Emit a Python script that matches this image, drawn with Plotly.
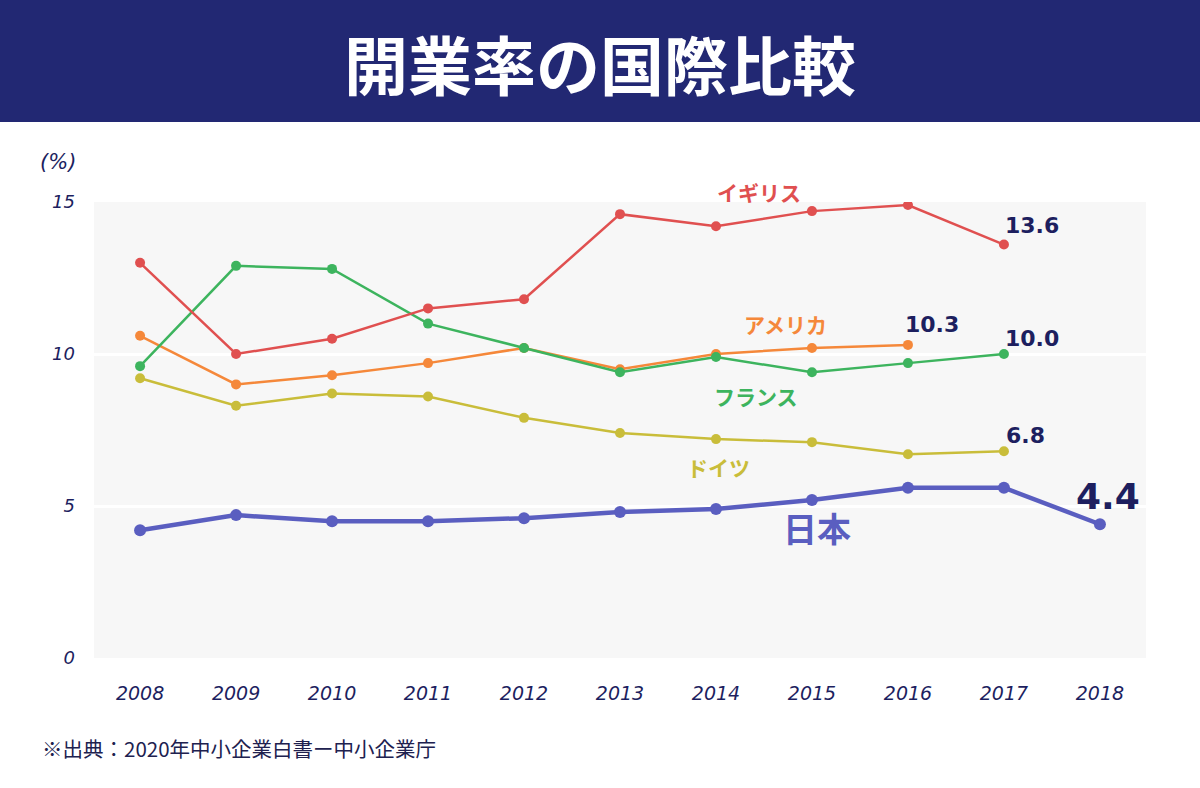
import plotly.graph_objects as go

years = [2008, 2009, 2010, 2011, 2012, 2013, 2014, 2015, 2016, 2017, 2018]
uk = [13.0, 10.0, 10.5, 11.5, 11.8, 14.6, 14.2, 14.7, 14.9, 13.6]
france = [9.6, 12.9, 12.8, 11.0, 10.2, 9.4, 9.9, 9.4, 9.7, 10.0]
usa = [10.6, 9.0, 9.3, 9.7, 10.2, 9.5, 10.0, 10.2, 10.3]
germany = [9.2, 8.3, 8.7, 8.6, 7.9, 7.4, 7.2, 7.1, 6.7, 6.8]
japan = [4.2, 4.7, 4.5, 4.5, 4.6, 4.8, 4.9, 5.2, 5.6, 5.6, 4.4]

y_ticks = [0, 5, 10, 15]

NAVY = "#1d1f5f"
C_UK = "#e05050"
C_FR = "#3db45e"
C_US = "#f5883a"
C_DE = "#c9bd3a"
C_JP = "#5a5ec0"

fig = go.Figure()

def add(vals, color, lw, ms):
    fig.add_trace(go.Scatter(
        x=years[:len(vals)], y=vals, mode="lines+markers",
        line=dict(color=color, width=lw),
        marker=dict(color=color, size=ms),
        showlegend=False, hoverinfo="skip"))

add(germany, C_DE, 2.5, 10)
add(usa, C_US, 2.5, 10)
add(france, C_FR, 2.5, 10)
add(uk, C_UK, 2.5, 10)
add(japan, C_JP, 4.5, 12)

# Series name labels (x, y in data units, yshift px)
name_labels = [
    ("イギリス", 2014.45, 14.95, 12, C_UK, 21),
    ("アメリカ", 2014.72, 10.85, 4, C_US, 21),
    ("フランス", 2014.42, 8.45, 5, C_FR, 21),
    ("ドイツ", 2014.03, 6.2, 3, C_DE, 21),
    ("日本", 2015.05, 4.1, 6, C_JP, 34),
]
for t, x, y, ys, c, s in name_labels:
    fig.add_annotation(x=x, y=y, yshift=ys, text=t, showarrow=False,
                       xanchor="center", yanchor="middle",
                       font=dict(family="Noto Sans CJK JP", size=s, color=c, weight="bold"))

# Value labels
val_labels = [
    (f"{uk[-1]:.1f}", 2017, uk[-1], 28, -19, 22),
    (f"{usa[-1]:.1f}", 2016, usa[-1], 24, -20, 22),
    (f"{france[-1]:.1f}", 2017, france[-1], 28, -16, 22),
    (f"{germany[-1]:.1f}", 2017, germany[-1], 22, -16, 22),
    (f"{japan[-1]:.1f}", 2018, japan[-1], 8, -28, 36),
]
for t, x, y, dx, dy, s in val_labels:
    fig.add_annotation(x=x, y=y, text=t, showarrow=False, xanchor="center", yanchor="middle",
                       xshift=dx, yshift=-dy,
                       font=dict(family="DejaVu Sans", size=s, color=NAVY, weight="bold"))

# Banner
fig.add_shape(type="rect", xref="paper", yref="paper",
              x0=-94/1052, x1=1106/1052, y0=(658-122)/456, y1=658/456,
              fillcolor="#222873", line=dict(width=0), layer="below")
fig.add_annotation(xref="paper", yref="paper", x=(600-94)/1052, y=(658-62)/456,
                   xanchor="center", yanchor="middle",
                   text="開業率の国際比較", showarrow=False,
                   font=dict(family="Noto Sans CJK JP", size=64, color="white", weight="bold"))
fig.add_annotation(xref="paper", yref="paper", x=(58-94)/1052, y=(658-162)/456,
                   xanchor="center", yanchor="middle",
                   text="(%)", showarrow=False,
                   font=dict(family="DejaVu Sans", size=21, color=NAVY, style="italic"))
fig.add_annotation(xref="paper", yref="paper", x=(40-94)/1052, y=(658-748)/456,
                   text="※出典：2020年中小企業白書ー中小企業庁", showarrow=False,
                   xanchor="left", yanchor="middle",
                   font=dict(family="Noto Sans CJK JP", size=20.5, color="#20214f"))

fig.update_layout(
    width=1200, height=788,
    margin=dict(l=94, r=54, t=202, b=130),
    paper_bgcolor="white", plot_bgcolor="#f7f7f7",
    xaxis=dict(range=[2007.52, 2018.48], tickvals=years, ticktext=[str(y) for y in years],
               showgrid=False, zeroline=False, showline=False, ticks="",
               ticklabelstandoff=22,
               tickfont=dict(family="DejaVu Sans", size=19, color=NAVY, style="italic")),
    yaxis=dict(range=[0, 15], tickvals=y_ticks, showgrid=True, gridcolor="white", gridwidth=3,
               zeroline=False, showline=False, ticks="", ticklabelstandoff=18,
               tickfont=dict(family="DejaVu Sans", size=18, color=NAVY, style="italic")),
)

fig.write_html("out.html")
